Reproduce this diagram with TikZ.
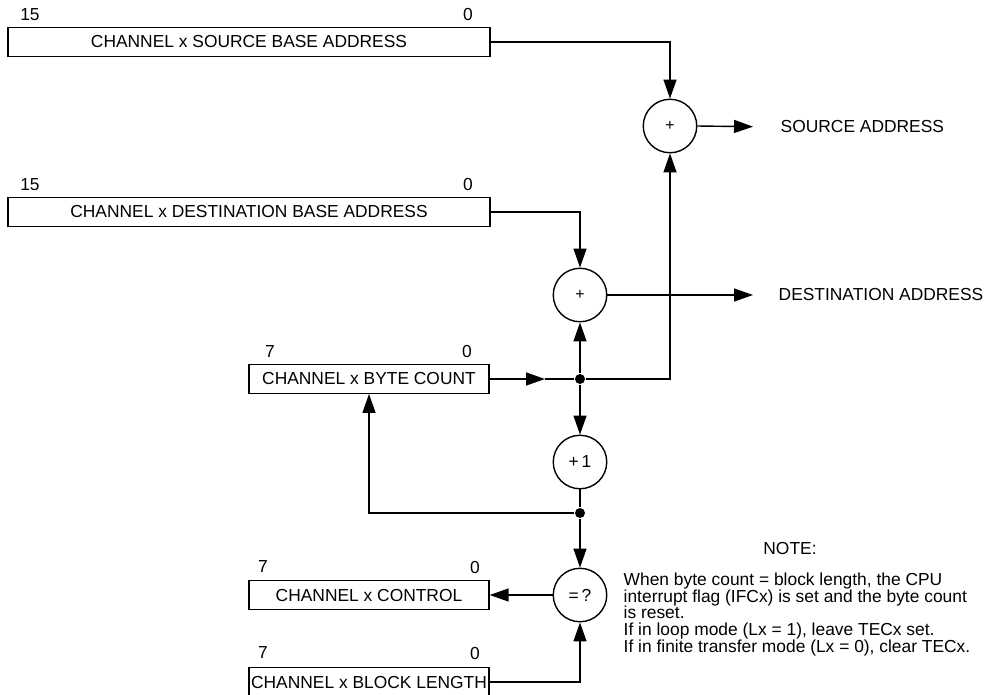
\documentclass[tikz,border=0pt]{standalone}
\usepackage{fontspec}
\setmainfont{Liberation Sans}
\usetikzlibrary{arrows.meta}
\usetikzlibrary{positioning}

\begin{document}
\begin{tikzpicture}[
    x=0.02cm, y=-0.02cm,
    every node/.style={font=\fontsize{9.9}{9.5}\selectfont, inner sep=0pt},
    reg/.style={rectangle, draw, minimum height=0.57cm},
    wide reg/.style={reg, minimum width=9.64cm},
    short reg/.style={reg, minimum width=4.8cm},
    op/.style={circle, draw, minimum size=1.07cm},
    dot/.style={circle, fill, minimum size=0.2cm},
    line width=0.8pt,
    >={Triangle[length=0.38cm,width=0.26cm]}
  ]
  \useasboundingbox (0,0) rectangle (1000,694);

  % Registers
  \node[wide reg] (src) at (249,42)  {CHANNEL x SOURCE BASE ADDRESS};
  \node[wide reg] (dst) at (249,212) {CHANNEL x DESTINATION BASE ADDRESS};
  \node[short reg] (bc)  at (369,379) {CHANNEL x BYTE COUNT};
  \node[short reg] (ctl) at (369,595) {CHANNEL x CONTROL};
  \node[short reg] (blk) at (369,682) {CHANNEL x BLOCK LENGTH};

  % Bit numbers
  \node (src15) at (30,15)   {15};
  \node (src0)  at (468,15)  {0};
  \node (dst15) at (30,185)  {15};
  \node (dst0)  at (468,185) {0};
  \node (bc7)   at (270,352) {7};
  \node (bc0)   at (467,352) {0};
  \node (ctl7)  at (263,567) {7};
  \node (ctl0)  at (475,567) {0};
  \node (blk7)  at (263,653) {7};
  \node (blk0)  at (475,653) {0};

  % Operators
  \node[op] (adds) at (670,126) {\small +};
  \node[op] (addd) at (580,295) {\small +};
  \node[op] (inc)  at (580,462) {+\,1};
  \node[op] (cmp)  at (580,595) {=\,?};

  % Junctions
  \node[dot] (j1) at (580,379) {};
  \node[dot] (j2) at (580,513) {};
  \coordinate (bcarr) at (545,379);

  % Outputs and note
  \node[anchor=west] (sa) at (780,127) {SOURCE ADDRESS};
  \node[anchor=west] (da) at (778,295) {DESTINATION ADDRESS};
  \node (notehead) at (790,548) {NOTE:};
  \node[anchor=north west, align=left] (note) at (623,572)
    {When byte count = block length, the CPU\\
     interrupt flag (IFCx) is set and the byte count\\
     is reset.\\
     If in loop mode (Lx = 1), leave TECx set.\\
     If in finite transfer mode (Lx = 0), clear TECx.};

  % Connections
  \draw[->] (src.east) -| (adds.north);
  \draw[->] (dst.east) -| (addd.north);
  \draw[->, shorten >=0.54cm] (adds.east) -- (sa.west);
  \draw[->, shorten >=0.5cm] (addd.east) -- (da.west);
  \draw[->] (bc.east) -- (bcarr);
  \draw (bcarr) -- (j1);
  \draw[->] (j1) -- (addd.south);
  \draw[->] (j1) -| (adds.south);
  \draw[->] (j1) -- (inc.north);
  \draw (inc.south) -- (j2);
  \draw[->] (j2) -| (bc.south);
  \draw[->] (j2) -- (cmp.north);
  \draw[->] (cmp.west) -- (ctl.east);
  \draw[->] (blk.east) -| (cmp.south);

\end{tikzpicture}
\end{document}
